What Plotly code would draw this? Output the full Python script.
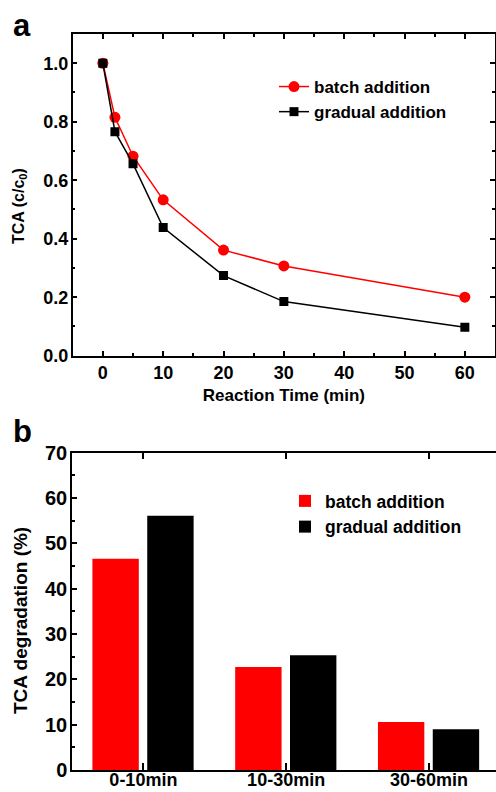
import plotly.graph_objects as go

# Panel a data
time_min = [0, 2, 5, 10, 20, 30, 60]
batch_ratio = [1.0, 0.815, 0.682, 0.533, 0.361, 0.307, 0.200]
gradual_ratio = [1.0, 0.766, 0.656, 0.438, 0.274, 0.185, 0.097]

# Panel b data
periods = ["0-10min", "10-30min", "30-60min"]
batch_degr = [46.6, 22.7, 10.6]
gradual_degr = [56.1, 25.3, 9.0]

RED = "#ff0000"
BLACK = "#000000"
FONT = "Liberation Sans, Arial, sans-serif"
W, H = 496, 792

fig = go.Figure()

fig.add_trace(go.Scatter(
    x=time_min, y=batch_ratio, name="batch addition", mode="lines+markers",
    line=dict(color=RED, width=1.5), marker=dict(symbol="circle", size=11, color=RED),
    xaxis="x", yaxis="y", legend="legend"))
fig.add_trace(go.Scatter(
    x=time_min, y=gradual_ratio, name="gradual addition", mode="lines+markers",
    line=dict(color=BLACK, width=1.5), marker=dict(symbol="square", size=9, color=BLACK),
    xaxis="x", yaxis="y", legend="legend"))

fig.add_trace(go.Bar(
    x=periods, y=batch_degr, name="batch addition", marker=dict(color=RED, line=dict(width=0)),
    width=0.325, offset=-0.357, xaxis="x2", yaxis="y2", legend="legend2"))
fig.add_trace(go.Bar(
    x=periods, y=gradual_degr, name="gradual addition", marker=dict(color=BLACK, line=dict(width=0)),
    width=0.325, offset=0.027, xaxis="x2", yaxis="y2", legend="legend2"))


def bf(size):
    return dict(family=FONT, size=size, color="black", weight="bold")


axis_common = dict(
    showline=True, linecolor="black", linewidth=1.5, ticks="inside", tickcolor="black",
    tickwidth=1.5, showgrid=False, zeroline=False, automargin=False,
)
minor_style = dict(ticks="inside", ticklen=3, tickcolor="black", tickwidth=1.5)


def px_x(p):
    return p / W


def px_y(p):
    return (H - p) / H


fig.update_layout(
    width=W, height=H, margin=dict(l=0, r=0, t=0, b=0),
    paper_bgcolor="white", plot_bgcolor="white", font=bf(17),
    barmode="group",
    xaxis=dict(**axis_common, domain=[px_x(72.7), px_x(495)], range=[-5, 65],
               tickvals=[0, 10, 20, 30, 40, 50, 60], ticklen=5, mirror="ticks", tickfont=bf(18),
               minor=dict(dtick=5, tick0=0, **minor_style),
               title=dict(text="Reaction Time (min)", font=bf(17), standoff=7),
               anchor="y"),
    yaxis=dict(**axis_common, domain=[px_y(355.7), px_y(34)], range=[0, 1.1],
               tickvals=[0, 0.2, 0.4, 0.6, 0.8, 1.0], tickformat=".1f", ticklen=5, mirror="ticks",
               tickfont=bf(18), ticklabelstandoff=-1,
               minor=dict(dtick=0.1, tick0=0, **minor_style),
               anchor="x"),
    xaxis2=dict(**axis_common, domain=[px_x(72), 1.0], range=[-0.5, 2.47],
                type="category", ticklen=7, mirror="ticks", anchor="y2",
                tickfont=bf(18), ticklabelstandoff=-7),
    yaxis2=dict(**axis_common, domain=[px_y(770), px_y(452.7)], range=[0, 70],
                tickvals=[0, 10, 20, 30, 40, 50, 60, 70], ticklen=5, mirror=False,
                tickfont=bf(20), ticklabelstandoff=-1,
                minor=dict(dtick=5, tick0=0, **minor_style),
                anchor="x2"),
    legend=dict(x=px_x(274), y=px_y(69), xanchor="left", yanchor="top",
                font=bf(17), bgcolor="rgba(0,0,0,0)", tracegroupgap=0),
    legend2=dict(x=px_x(285), y=px_y(483), xanchor="left", yanchor="top",
                 font=bf(17.5), bgcolor="rgba(0,0,0,0)", tracegroupgap=0),
    annotations=[
        dict(text="a", x=px_x(11), y=px_y(25), xref="paper", yref="paper", xanchor="left",
             yanchor="middle", showarrow=False, font=bf(31)),
        dict(text="b", x=px_x(11), y=px_y(432), xref="paper", yref="paper", xanchor="left",
             yanchor="middle", showarrow=False, font=bf(31)),
        dict(text="TCA (c/c<sub>0</sub>)", x=px_x(20), y=px_y(206), xref="paper", yref="paper",
             xanchor="center", yanchor="middle", textangle=-90, showarrow=False, font=bf(16)),
        dict(text="TCA degradation (%)", x=px_x(20), y=px_y(621), xref="paper", yref="paper",
             xanchor="center", yanchor="middle", textangle=-90, showarrow=False, font=bf(19)),
    ],
)

fig.write_html("out.html")
